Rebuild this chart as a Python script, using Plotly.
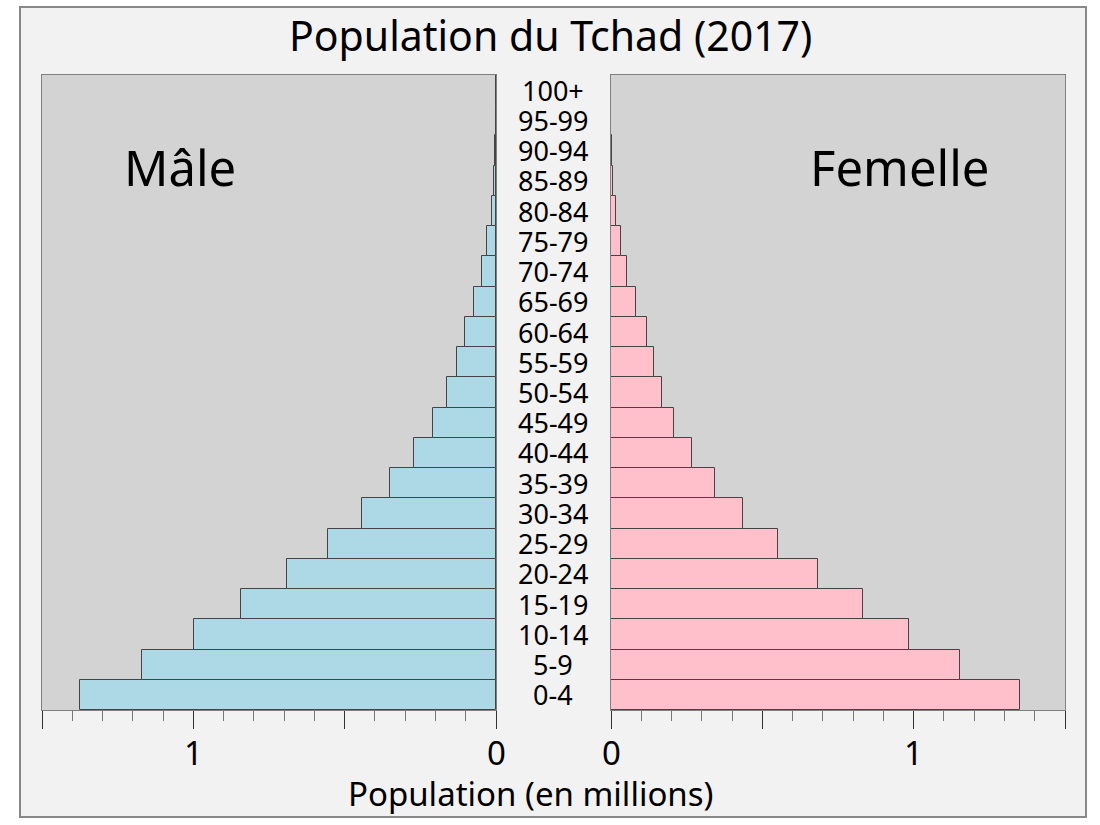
import plotly.graph_objects as go

ages = ["0-4", "5-9", "10-14", "15-19", "20-24", "25-29", "30-34", "35-39",
        "40-44", "45-49", "50-54", "55-59", "60-64", "65-69", "70-74",
        "75-79", "80-84", "85-89", "90-94", "95-99", "100+"]
male = [1.376, 1.168, 0.999, 0.841, 0.691, 0.554, 0.442, 0.350, 0.271,
        0.208, 0.162, 0.129, 0.102, 0.073, 0.046, 0.030, 0.013, 0.007,
        0.003, 0.0008, 0.0001]
female = [1.352, 1.152, 0.985, 0.831, 0.685, 0.553, 0.437, 0.344, 0.268,
          0.209, 0.169, 0.142, 0.119, 0.083, 0.053, 0.033, 0.017, 0.008,
          0.003, 0.001, 0.0002]
tick_vals = [0, 0.5, 1, 1.5]
tick_labels = {0: "0", 1: "1"}

FONT = "Noto Sans"
W, H = 1100, 825
L, R, T, B = 42, 35, 75, 115
pw = W - L - R
ph = H - T - B
left_end = (496 - L) / pw
right_start = (611 - L) / pw


def px_x(v):
    return (v - L) / pw


def px_y(v):
    return (H - v - B) / ph


fig = go.Figure()
fig.add_trace(go.Bar(y=ages, x=male, orientation="h", xaxis="x", yaxis="y",
                     marker=dict(color="#add8e6", line=dict(color="#444", width=1)),
                     showlegend=False, hoverinfo="x+y"))
fig.add_trace(go.Bar(y=ages, x=female, orientation="h", xaxis="x2", yaxis="y2",
                     marker=dict(color="#ffc0cb", line=dict(color="#444", width=1)),
                     showlegend=False, hoverinfo="x+y"))

axis_common = dict(tickvals=tick_vals, ticktext=["" for _ in tick_vals],
                   ticks="outside", ticklen=18, tickcolor="#333", tickwidth=1,
                   minor=dict(dtick=0.1, ticks="outside", ticklen=10, tickcolor="#777"),
                   showline=True, linecolor="#808080", linewidth=1, mirror=True,
                   showgrid=False, zeroline=False, showticklabels=True,
                   fixedrange=True)

xa = dict(axis_common); xa.update(domain=[0, left_end], range=[1.5, 0], anchor="y")
xb = dict(axis_common); xb.update(domain=[right_start, 1], range=[0, 1.5], anchor="y2")
ya_common = dict(showticklabels=False, ticks="", showline=True, linecolor="#808080",
                 linewidth=1, mirror=True, showgrid=False, zeroline=False,
                 range=[-0.5, 20.5], fixedrange=True)
ya = dict(ya_common); ya.update(anchor="x", domain=[0, 1])
yb = dict(ya_common); yb.update(anchor="x2", domain=[0, 1])

annotations = []
mid_x = 553
for a in ages:
    annotations.append(dict(x=px_x(mid_x), xref="paper", y=a, yref="y",
                            text=a, showarrow=False,
                            font=dict(family=FONT, size=27, color="black"),
                            xanchor="center", yanchor="middle"))
for xr in ("x", "x2"):
    for v, t in tick_labels.items():
        annotations.append(dict(x=v, xref=xr, y=px_y(752), yref="paper", text=t,
                                showarrow=False,
                                font=dict(family=FONT, size=33, color="black"),
                                xanchor="center", yanchor="middle"))
annotations += [
    dict(x=px_x(mid_x), xref="paper", y=-1.1, yref="y", text="Âge",
         showarrow=False, font=dict(family=FONT, size=27, color="black"),
         xanchor="center", yanchor="middle"),
    dict(x=px_x(180), xref="paper", y=px_y(167), yref="paper",
         text="Mâle", showarrow=False, font=dict(family=FONT, size=49, color="black"),
         xanchor="center", yanchor="middle"),
    dict(x=px_x(899), xref="paper", y=px_y(167), yref="paper",
         text="Femelle", showarrow=False, font=dict(family=FONT, size=49, color="black"),
         xanchor="center", yanchor="middle"),
    dict(x=px_x(530), xref="paper", y=px_y(793), yref="paper",
         text="Population (en millions)", showarrow=False,
         font=dict(family=FONT, size=33, color="black"),
         xanchor="center", yanchor="middle"),
    dict(x=px_x(550), xref="paper", y=px_y(35), yref="paper",
         text="Population du Tchad (2017)", showarrow=False,
         font=dict(family=FONT, size=41, color="black"),
         xanchor="center", yanchor="middle"),
]

shapes = [
    dict(type="rect", xref="paper", yref="paper",
         x0=px_x(20), x1=px_x(1086), y0=px_y(817), y1=px_y(7),
         fillcolor="#f2f2f2", line=dict(color="#888", width=2), layer="below"),
    dict(type="rect", xref="paper", yref="paper", x0=0, x1=left_end, y0=0, y1=1,
         fillcolor="#d3d3d3", line=dict(width=0), layer="below"),
    dict(type="rect", xref="paper", yref="paper", x0=right_start, x1=1, y0=0, y1=1,
         fillcolor="#d3d3d3", line=dict(width=0), layer="below"),
]

fig.update_layout(
    width=W, height=H,
    margin=dict(l=L, r=R, t=T, b=B, autoexpand=False),
    paper_bgcolor="white", plot_bgcolor="#d3d3d3",
    bargap=0, barmode="overlay",
    xaxis=xa, xaxis2=xb, yaxis=ya, yaxis2=yb,
    annotations=annotations, shapes=shapes,
    font=dict(family=FONT),
)

fig.write_html("out.html", config={"displayModeBar": False},
               post_script="document.body.style.margin='0';")
